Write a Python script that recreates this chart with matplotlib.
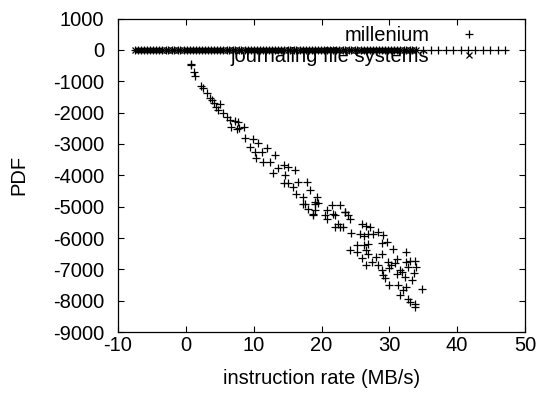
import matplotlib
matplotlib.use("Agg")
import matplotlib.pyplot as plt

plt.rcParams['font.family'] = ['Liberation Sans', 'DejaVu Sans']
plt.rcParams['axes.unicode_minus'] = False

# points along y = 0 (dense band)
row_x = [-7.5, -7.1, -6.6, -6.2, -5.7, -5.3, -4.8, -4.4, -3.9, -3.5, -3.0, -2.6,
         -2.1, -1.7, -1.2, -0.8, -0.3, 0.1, 0.6, 1.0, 1.5, 1.9, 2.4, 2.8, 3.3,
         3.7, 4.2, 4.6, 5.1, 5.5, 6.0, 6.4, 6.9, 7.3, 7.8, 8.2, 8.7, 9.1, 9.6,
         10.0, 10.5, 10.9, 11.4, 11.8, 12.3, 12.7, 13.2, 13.6, 14.1, 14.5, 15.0,
         15.4, 15.9, 16.3, 16.8, 17.2, 17.7, 18.1, 18.6, 19.0, 19.5, 19.9, 20.4,
         20.8, 21.3, 21.7, 22.2, 22.6, 23.1, 23.5, 24.0, 24.4, 24.9, 25.3, 25.8,
         26.2, 26.7, 27.1, 27.6, 28.0, 28.5, 28.9, 29.4, 29.8, 30.3, 30.7, 31.2,
         31.6, 32.1, 32.5, 33.0, 33.4, 33.9]
row_tail_x = [35.0, 36.1, 37.2, 38.3, 39.4, 40.5, 41.6, 42.7, 43.8, 44.9, 46.0, 47.0]

# millenium cloud
mil_x = [0.7, 0.8, 1.2, 1.3, 2.3, 2.6, 3.1, 3.5, 3.9, 4.1, 4.4, 5.0, 4.8, 5.5,
         6.1, 6.5, 7.2, 7.7, 6.7, 7.5, 7.9, 8.6, 8.7, 9.9, 10.7, 11.9, 9.4, 10.2,
         11.2, 12.4, 13.1, 10.3, 11.3, 13.6, 14.4, 15.1, 16.1, 12.9, 14.6, 14.4,
         15.1, 15.8, 16.6, 17.8, 16.3, 17.3, 18.3, 19.3, 19.0, 17.6, 18.8, 20.8,
         21.7, 23.5,
         17.3, 19.0, 19.5, 18.0, 19.0, 18.8, 20.5, 20.8, 21.5, 22.7, 22.0, 23.5,
         23.9, 24.2, 22.0, 22.7, 23.2, 22.5, 24.4, 25.9, 26.6, 27.2, 25.7, 26.2,
         26.9, 27.6, 28.4, 29.1, 25.2, 26.2, 26.9, 26.6, 24.2, 25.2, 25.9, 26.9,
         27.4, 26.6, 28.1, 28.9, 28.4, 28.9, 29.1, 29.4, 28.9, 29.6, 30.6, 31.1,
         29.8, 30.0, 30.0, 31.3, 31.8, 32.4, 32.5, 31.6, 32.3, 32.5, 32.0, 31.6,
         32.8, 33.0, 33.8, 33.8, 33.8, 34.0, 33.6, 33.3, 34.8, 33.0, 32.8, 31.2,
         30.3, 30.8]
mil_y = [-450, -480, -720, -830, -1150, -1220, -1380, -1540, -1600, -1700, -1830,
         -1730, -1920, -2000, -2130, -2240, -2260, -2290, -2450, -2530, -2500,
         -2450, -2820, -2850, -2980, -3140, -3090, -3250, -3250, -3570, -3350,
         -3460, -3570, -3780, -3670, -3730, -3830, -3940, -3990, -4260, -4260,
         -4370, -4210, -4210, -4580, -4690, -4470, -4690, -4900, -4900, -5220,
         -5110, -5220, -5170,
         -4900, -4850, -4880, -5060, -5110, -5270, -5270, -5380, -4950, -4950,
         -5270, -5170, -5270, -5380, -5650, -5650, -5650, -5540, -5830, -5560,
         -5620, -5650, -5860, -5940, -5860, -5880, -5800, -5910, -6230, -6230,
         -6180, -6390, -6390, -6460, -6650, -6500, -6760, -6870, -6600, -6500,
         -6870, -7030, -7190, -7270, -6160, -6120, -6340, -6680, -6760, -6970,
         -7510, -7510, -7080, -6440, -6760, -7030, -7240, -7560, -7670, -7830,
         -7930, -8040, -8200, -8090, -6740, -6920, -7110, -7350, -7610, -6740,
         -6920, -7160, -6870, -6810]

fig = plt.figure(figsize=(5.39, 3.94), dpi=100)
ax = fig.add_axes([0.219, 0.157, 0.755, 0.796])

band_x = row_x + row_tail_x
ax.plot(band_x, [0] * len(band_x), '+', color='black',
        markersize=5.5, markeredgewidth=0.9, label='millenium')
ax.plot(mil_x, mil_y, '+', color='black', markersize=5.5, markeredgewidth=0.9)
ax.plot(row_x, [0] * len(row_x), 'x', color='black', markersize=4.5,
        markeredgewidth=0.9, label='journaling file systems')

ax.set_xlim(-10, 50)
ax.set_ylim(-9000, 1000)
ax.set_xticks(range(-10, 51, 10))
ax.set_yticks(range(-9000, 1001, 1000))
ax.tick_params(direction='in', top=True, right=True, length=4, width=0.8,
               labelsize=14.5)
ax.tick_params(axis='x', pad=3)
ax.tick_params(axis='y', pad=10)
for s in ax.spines.values():
    s.set_linewidth(0.9)

ax.set_xlabel('instruction rate (MB/s)', fontsize=14.5, va='center')
ax.set_ylabel('PDF', fontsize=14.5, va='center')
ax.xaxis.set_label_coords(0.5, -0.147)
ax.yaxis.set_label_coords(-0.243, 0.5)

ax.legend(loc='upper right', bbox_to_anchor=(0.9007, 0.977), frameon=False,
          markerfirst=False, fontsize=14.5, borderpad=0, borderaxespad=0,
          handlelength=1.5, handletextpad=1.25, labelspacing=0.1)

fig.savefig('out.png', dpi=100)
